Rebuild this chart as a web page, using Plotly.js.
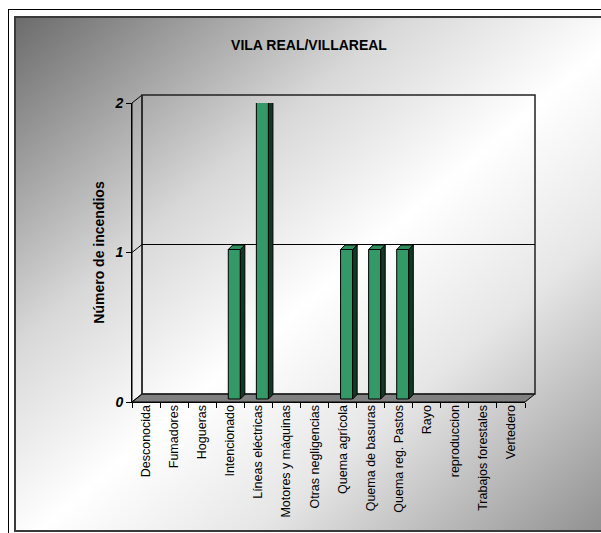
<!DOCTYPE html>
<html>
<head>
<meta charset="utf-8">
<script src="https://cdn.plot.ly/plotly-3.0.1.min.js"></script>
<style>
  html,body{margin:0;padding:0;background:#fff;overflow:hidden;width:601px;height:533px;}
  #frame{position:absolute;left:8px;top:9px;width:700px;height:700px;border-left:1.5px solid #000;border-top:1.5px solid #000;}
  #bg{position:absolute;left:14px;top:16px;width:600px;height:512px;border:2px solid #3a3a3a;
      background:linear-gradient(to bottom right,#6c6c6c 0%,#d8d8d8 32%,#ffffff 52%,#e6e6e6 70%,#8e8e8e 100%);}
  #chart{position:absolute;left:0;top:0;width:601px;height:533px;}
</style>
</head>
<body>
<div id="frame"></div>
<div id="bg"></div>
<div id="chart"></div>
<script>
// ---- data ----
const categories = ['Desconocida','Fumadores','Hogueras','Intencionado','Líneas eléctricas','Motores y máquinas','Otras negligencias','Quema agrícola','Quema de basuras','Quema reg. Pastos','Rayo','reproduccion','Trabajos forestales','Vertedero'];
const incendios = [0,0,0,1,2,0,0,1,1,1,0,0,0,0];
const yTicks = [0,1,2];
const chartTitle = 'VILA REAL/VILLAREAL';
const yTitle = 'Número de incendios';

// ---- geometry (styles) ----
const W = 601, H = 533;
const mL = 132, mR = 76, mT = 103, mB = 131;
const PW = W - mL - mR, PH = H - mT - mB;
const yMax = 2;
const ppx = PW / categories.length;   // px per category
const ppy = PH / yMax;                // px per unit
const DX = 10, DY = 8;                // wall depth in px
const dxp = DX / PW, dyp = DY / PH;   // in paper units
const barW = 0.43, barOff = -0.07, barBase = 3 / ppy, bd = 4.5;

const shapes = [];
// floor
shapes.push({type:'path', xref:'paper', yref:'paper', layer:'between',
  path:`M0,0 L${dxp},${dyp} L${1+dxp},${dyp} L1,0 Z`,
  fillcolor:'#808080', line:{color:'#000', width:1}});
// left wall
shapes.push({type:'path', xref:'paper', yref:'paper', layer:'between',
  path:`M0,0 L${dxp},${dyp} L${dxp},${1+dyp} L0,1 Z`,
  fillcolor:'rgba(0,0,0,0)', line:{color:'#000', width:1}});
// back wall
shapes.push({type:'rect', xref:'paper', yref:'paper', layer:'between',
  x0:dxp, x1:1+dxp, y0:dyp, y1:1+dyp,
  fillcolor:'rgba(0,0,0,0)', line:{color:'#222', width:1.5}});
// gridlines on walls
yTicks.filter(v => v > 0 && v < yMax).forEach(v => {
  shapes.push({type:'line', xref:'paper', yref:'y', layer:'between',
    x0:dxp, x1:1+dxp, y0:v + DY/ppy, y1:v + DY/ppy, line:{color:'#000', width:1}});
  shapes.push({type:'line', xref:'paper', yref:'y', layer:'between',
    x0:0, x1:dxp, y0:v, y1:v + DY/ppy, line:{color:'#000', width:1}});
});
// 3D faces of bars
const L = barOff * ppx, R = (barOff + barW) * ppx;
incendios.forEach((v, i) => {
  if (!v) return;
  const h = v * ppy;
  shapes.push({type:'path', xref:'x', yref:'y', xsizemode:'pixel', ysizemode:'pixel',
    xanchor:i, yanchor:barBase, layer:'above',
    path:`M${R},0 L${R+bd},${bd} L${R+bd},${h+bd} L${R},${h} Z`,
    fillcolor:'#0f3b24', line:{color:'#000', width:1}});
  shapes.push({type:'path', xref:'x', yref:'y', xsizemode:'pixel', ysizemode:'pixel',
    xanchor:i, yanchor:barBase, layer:'above',
    path:`M${L},${h} L${L+bd},${h+bd} L${R+bd},${h+bd} L${R},${h} Z`,
    fillcolor:'#2f8c5c', line:{color:'#000', width:1}});
});

const trace = {
  type:'bar', x:categories, y:incendios.map(v => v || null),
  base:barBase, width:barW, offset:barOff,
  marker:{color:'#339966', line:{color:'#000', width:1}},
  hoverinfo:'x+y'
};

const layout = {
  width:W, height:H,
  margin:{l:mL, r:mR, t:mT, b:mB, pad:0},
  paper_bgcolor:'rgba(0,0,0,0)', plot_bgcolor:'rgba(0,0,0,0)',
  showlegend:false,
  font:{family:'Liberation Sans, Arial, sans-serif', color:'#000'},
  title:{text:chartTitle, x:309/W, xanchor:'center', y:1-45/H, yanchor:'middle', yref:'container',
    font:{family:'Liberation Sans, Arial', size:14, weight:'bold', color:'#000'}},
  xaxis:{type:'category', categoryorder:'array', categoryarray:categories,
    range:[-0.5, categories.length-0.5], fixedrange:true,
    tickson:'boundaries', ticks:'outside', ticklen:5, tickcolor:'#000', tickwidth:1,
    tickangle:-90, tickfont:{size:12.5, color:'#000'}, ticklabelstandoff:-3,
    showline:true, linecolor:'#000', linewidth:1, showgrid:false, zeroline:false},
  yaxis:{range:[0, yMax], tickvals:yTicks, ticktext:yTicks.map(String), fixedrange:true,
    ticks:'outside', ticklen:5, tickcolor:'#000', tickwidth:1,
    tickfont:{size:14, weight:'bold', style:'italic', color:'#000'},
    showline:true, linecolor:'#000', linewidth:1, showgrid:false, zeroline:false,
    title:{text:yTitle, standoff:6, font:{size:14, weight:'bold', color:'#000'}}},
  shapes:shapes
};

Plotly.newPlot('chart', [trace], layout, {displayModeBar:false, staticPlot:true});
</script>
</body>
</html>
